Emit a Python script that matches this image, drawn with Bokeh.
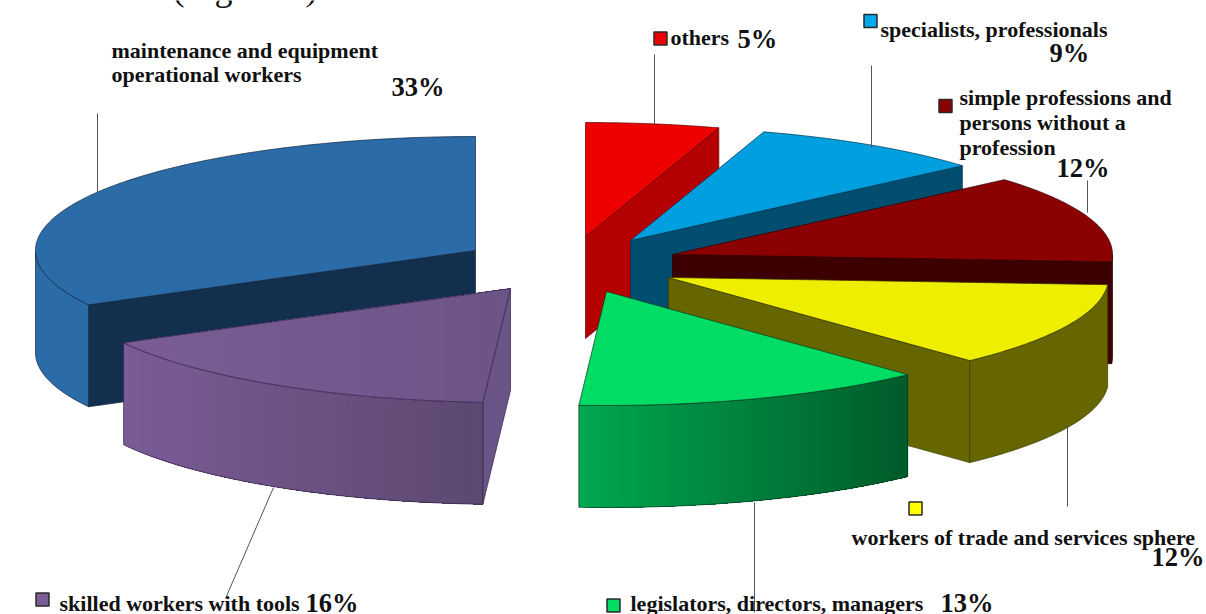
import math
from bokeh.plotting import figure
from bokeh.models import Range1d
from bokeh.core.properties import value
from bokeh.embed import file_html
from bokeh.resources import INLINE

# ---- data (labels round these to 33, 16, 13, 12, 12, 9, 5)
categories = ["maintenance and equipment operational workers", "skilled workers with tools",
              "legislators, directors, managers", "workers of trade and services sphere",
              "simple professions and persons without a profession",
              "specialists, professionals", "others"]
shares = [32.9, 16.1, 13, 12, 12.4, 8.7, 4.9]

# ---- pie projection and explosion of each slice
RX, RY, DEPTH = 440, 114, 102
apex = [(475, 250), (510, 288), (606, 291), (668, 277), (672, 254), (630, 240), (585, 236)]
top_col = ["#2b6ca8", "#7a5d96", "#00dc64", "#eeee00", "#8b0000", "#009fdf", "#ee0000"]
top_col2 = ["#2b6ca8", "#6c5488", "#00dc64", "#eeee00", "#8b0000", "#009fdf", "#ee0000"]
wall_col = ["#132f4e", "#6a5488", "#005a2a", "#666600", "#3c0000", "#004d70", "#b40000"]
side_l = ["#2b6ca8", "#7a5c96", "#00a850", "#666600", "#3c0000", "#004d70", "#b40000"]
side_r = ["#2b6ca8", "#5c4870", "#005a2a", "#666600", "#3c0000", "#004d70", "#b40000"]
edge_col = ["#10253c", "#35244a", "#0a3a20", "#3a3a00", "#300000", "#00344c", "#600000"]
draw_order = [6, 5, 4, 3, 2, 0, 1]

p = figure(width=1206, height=614, x_range=Range1d(0, 1206), y_range=Range1d(614, 0),
           toolbar_location=None, output_backend="svg", min_border=0,
           outline_line_color=None)
p.axis.visible = False
p.grid.visible = False


def mix(a, b, t):
    ca = [int(a[i:i + 2], 16) for i in (1, 3, 5)]
    cb = [int(b[i:i + 2], 16) for i in (1, 3, 5)]
    return "#%02x%02x%02x" % tuple(round(u + (v - u) * t) for u, v in zip(ca, cb))


def rim(c, deg, dy=0):
    r = math.radians(deg)
    return c[0] - RX * math.sin(r), c[1] - RY * math.cos(r) + dy


def clip_x(poly, lo, hi):
    def cut(pts, inside, xv):
        out = []
        for i, a in enumerate(pts):
            b = pts[(i + 1) % len(pts)]
            if inside(a):
                out.append(a)
            if inside(a) != inside(b):
                t = (xv - a[0]) / (b[0] - a[0])
                out.append((xv, a[1] + t * (b[1] - a[1])))
        return out
    r = cut(poly, lambda q: q[0] >= lo, lo)
    return cut(r, lambda q: q[0] <= hi, hi) if r else r


def strips(poly, col_a, col_b, width=4):
    x0 = min(q[0] for q in poly)
    x1 = max(q[0] for q in poly)
    steps = max(1, int((x1 - x0) / width))
    for k in range(steps):
        lo = x0 + (x1 - x0) * k / steps
        # each strip runs on to the right edge, the next one paints over it: no seams
        st = clip_x(poly, lo, x1 + 1)
        if len(st) >= 3:
            p.patch([q[0] for q in st], [q[1] for q in st],
                    fill_color=mix(col_a, col_b, k / steps), line_color=None)


start = 0.0
spans = []
for s in shares:
    spans.append((start, start + s * 3.6))
    start += s * 3.6

for i in draw_order:
    a0, a1 = spans[i]
    c = apex[i]
    n = max(2, int((a1 - a0) * 1.5))
    angs = [a0 + (a1 - a0) * k / n for k in range(n + 1)]
    mid = rim(c, (a0 + a1) / 2)
    # radial walls that face the viewer
    for a in (a0, a1):
        e = rim(c, a)
        dx, dy = e[0] - c[0], e[1] - c[1]
        nx, ny = dy, -dx
        if nx * (mid[0] - c[0]) + ny * (mid[1] - c[1]) > 0:
            nx, ny = -nx, -ny
        if ny > 0:
            xs = [c[0], e[0], e[0], c[0]]
            ys = [c[1], e[1], e[1] + DEPTH, c[1] + DEPTH]
            p.patch(xs, ys, fill_color=wall_col[i], line_color=edge_col[i], line_width=0.7)
    # outer wall, front part only
    front = [a for a in angs if 90 <= a <= 270]
    if len(front) >= 2:
        pts = [rim(c, a) for a in front]
        wall = pts + [(q[0], q[1] + DEPTH) for q in reversed(pts)]
        if side_l[i] != side_r[i]:
            strips(wall, side_l[i], side_r[i])
        else:
            p.patch([q[0] for q in wall], [q[1] for q in wall], fill_color=side_l[i], line_color=None)
        p.patch([q[0] for q in wall], [q[1] for q in wall], fill_alpha=0,
                line_color=edge_col[i], line_width=0.7)
    # top face
    poly = [c] + [rim(c, a) for a in angs]
    if top_col[i] != top_col2[i]:
        strips(poly, top_col[i], top_col2[i])
        p.patch([q[0] for q in poly], [q[1] for q in poly], fill_alpha=0,
                line_color=edge_col[i], line_width=0.7)
    else:
        p.patch([q[0] for q in poly], [q[1] for q in poly], fill_color=top_col[i],
                line_color=edge_col[i], line_width=0.7)

# ---- leader lines
leaders = [((97, 113), (97, 192)), ((273, 487), (225, 598)), ((754, 502), (754, 612)),
           ((1067, 425), (1067, 506)), ((1087, 180), (1087, 212)), ((871, 65), (871, 147)),
           ((654, 54), (654, 124))]
for (xa, ya), (xb, yb) in leaders:
    p.line([xa, xb], [ya, yb], line_color="#555555", line_width=1)

# ---- legend keys
keys = [(42, 599, "#7a5d96"), (660, 38, "#ee0000"), (870, 20.5, "#00a8ec"),
        (945, 105.5, "#8b0000"), (915, 508, "#ffff00"), (613, 605, "#00dc64")]
for kx, ky, col in keys:
    p.rect([kx], [ky], width=13, height=13, fill_color=col, line_color="#2a2a2a", line_width=1.5)

# ---- texts
font = value("Liberation Serif")
labels = [("maintenance and equipment", 111, 50), ("operational workers", 111, 74),
          ("others", 670, 37), ("specialists, professionals", 880, 29),
          ("simple professions and", 959, 97), ("persons without a", 959, 122),
          ("profession", 959, 147), ("workers of trade and services sphere", 851, 537),
          ("legislators, directors, managers", 630, 603), ("skilled workers with tools", 59, 603)]
for t, x, y in labels:
    p.text([x], [y], text=[t], text_font=font, text_font_style="bold", text_font_size="22px",
           text_baseline="alphabetic", text_color="#111111")

percents = [("33%", 391, 86), ("5%", 737, 38), ("9%", 1049, 52), ("12%", 1056, 167),
            ("12%", 1151, 556), ("13%", 940, 602), ("16%", 305, 602)]
for t, x, y in percents:
    p.text([x], [y], text=[t], text_font=font, text_font_style="bold", text_font_size="26.5px",
           text_baseline="alphabetic", text_color="#111111")

p.text([172], [-13], text=["(Figure 2)"], text_font=font, text_font_size="36px",
       text_baseline="alphabetic", text_color="#111111")

open("out.html", "w").write(file_html(p, INLINE))
